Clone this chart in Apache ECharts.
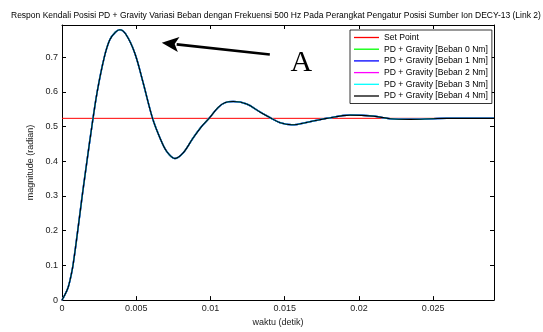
<!DOCTYPE html>
<html>
<head>
<meta charset="utf-8">
<script src="https://cdn.jsdelivr.net/npm/echarts@6/dist/echarts.min.js"></script>
<style>
  html, body { margin: 0; padding: 0; background: #fff; }
  #chart { width: 543px; height: 332px; }
</style>
</head>
<body>
<div id="chart"></div>
<script>
// Time axis (s) and position response (rad) of the PD + Gravity controller
const waktu = [0, 0.0002, 0.0004, 0.00055, 0.00074, 0.00106, 0.00136, 0.00168, 0.00201, 0.00237,
  0.00285, 0.00322, 0.0036, 0.00389, 0.0043, 0.0049, 0.00546, 0.0061, 0.0066, 0.00704,
  0.0076, 0.00816, 0.00883, 0.0094, 0.00991, 0.01052, 0.011, 0.01153, 0.01244, 0.01333,
  0.0140, 0.0147, 0.01547, 0.0167, 0.01783, 0.0194, 0.02097, 0.0221, 0.02345, 0.025,
  0.02592, 0.0291];
// Response is the same for every load (0..4 Nm): the curves lie on top of each other
const respon = [0, 0.016, 0.035, 0.059, 0.10, 0.20, 0.30, 0.40, 0.50, 0.60,
  0.70, 0.75, 0.772, 0.779, 0.766, 0.712, 0.627, 0.5236, 0.467, 0.429,
  0.408, 0.424, 0.467, 0.50, 0.5236, 0.555, 0.569, 0.572, 0.565, 0.542,
  0.526, 0.511, 0.505, 0.514, 0.5236, 0.533, 0.530, 0.5226, 0.5207, 0.5226,
  0.5236, 0.5236];
const setPoint = 0.5236;
const xMax = 0.0291;
const yMax = 0.7925;

const namaBeban = ['PD + Gravity [Beban 0 Nm]', 'PD + Gravity [Beban 1 Nm]',
  'PD + Gravity [Beban 2 Nm]', 'PD + Gravity [Beban 3 Nm]', 'PD + Gravity [Beban 4 Nm]'];
const warnaBeban = ['#00ff00', '#0000ff', '#ff00ff', '#00ffff', '#000000'];
const lebarBeban = [1.5, 1.5, 1.5, 1.5, 1.1];

const FONT = 'Liberation Sans, Arial, sans-serif';
const kurva = waktu.map((t, i) => [t, respon[i]]);

const chart = echarts.init(document.getElementById('chart'), null, { renderer: 'canvas' });

const baseAxis = {
  type: 'value',
  axisLine: { show: true, onZero: false, lineStyle: { color: '#000', width: 1 } },
  axisTick: { show: true, inside: true, length: 4, lineStyle: { color: '#000' } },
  splitLine: { show: false },
  axisLabel: { color: '#222', fontSize: 9, fontFamily: FONT, showMaxLabel: false }
};

const series = [{
  name: 'Set Point', type: 'line', symbol: 'none', silent: true,
  data: [[0, setPoint], [xMax, setPoint]],
  lineStyle: { color: '#ff0000', width: 1 }, itemStyle: { color: '#ff0000' }
}];
namaBeban.forEach((nm, i) => {
  series.push({
    name: nm, type: 'line', symbol: 'none', smooth: 0.35, silent: true,
    data: kurva,
    lineStyle: { color: warnaBeban[i], width: lebarBeban[i] },
    itemStyle: { color: warnaBeban[i] }
  });
});

chart.setOption({
  animation: false,
  backgroundColor: '#fff',
  title: {
    text: 'Respon Kendali Posisi PD + Gravity Variasi Beban dengan Frekuensi 500 Hz Pada Perangkat Pengatur Posisi Sumber Ion DECY-13 (Link 2)',
    left: 6, top: 6,
    textStyle: { fontSize: 8.5, fontWeight: 'normal', color: '#000', fontFamily: FONT }
  },
  grid: { left: 62, right: 49, top: 25, bottom: 27, containLabel: false },
  legend: {
    orient: 'vertical', left: 350, top: 30,
    padding: [2, 4, 2, 4], itemGap: 0.7, itemWidth: 25, itemHeight: 1.3,
    icon: 'rect',
    backgroundColor: '#fff', borderColor: '#000', borderWidth: 0.8, borderRadius: 0,
    textStyle: { fontSize: 8.6, lineHeight: 11, color: '#000', fontFamily: FONT },
    data: ['Set Point'].concat(namaBeban)
  },
  xAxis: [
    Object.assign({}, baseAxis, {
      min: 0, max: xMax, interval: 0.005, position: 'bottom',
      name: 'waktu (detik)', nameLocation: 'middle', nameGap: 17,
      nameTextStyle: { fontSize: 9, color: '#222', fontFamily: FONT },
      axisLabel: Object.assign({}, baseAxis.axisLabel, { margin: 4 })
    }),
    Object.assign({}, baseAxis, {
      min: 0, max: xMax, interval: 0.005, position: 'top',
      axisLabel: { show: false }
    })
  ],
  yAxis: [
    Object.assign({}, baseAxis, {
      min: 0, max: yMax, interval: 0.1, position: 'left',
      name: 'magnitude (radian)', nameLocation: 'middle', nameGap: 24, nameRotate: 90,
      nameTextStyle: { fontSize: 9, color: '#222', fontFamily: FONT },
      axisLabel: Object.assign({}, baseAxis.axisLabel, { margin: 4 })
    }),
    Object.assign({}, baseAxis, {
      min: 0, max: yMax, interval: 0.1, position: 'right',
      axisLabel: { show: false }
    })
  ],
  series: series
});

// Annotation "A": arrow pointing at the first overshoot, anchored in data coordinates
const ekor = chart.convertToPixel({ xAxisIndex: 0, yAxisIndex: 0 }, [0.0140, 0.7076]);
const ujung = chart.convertToPixel({ xAxisIndex: 0, yAxisIndex: 0 }, [0.00672, 0.7416]);
const posA = chart.convertToPixel({ xAxisIndex: 0, yAxisIndex: 0 }, [0.01613, 0.682]);
const dx = ujung[0] - ekor[0], dy = ujung[1] - ekor[1];
const len = Math.sqrt(dx * dx + dy * dy);
const ux = dx / len, uy = dy / len;
const px = -uy, py = ux;
const panjangKepala = 17, lebarKepala = 7.5;
const dasar = [ujung[0] - ux * panjangKepala, ujung[1] - uy * panjangKepala];

chart.setOption({
  graphic: [
    {
      type: 'line', silent: true,
      shape: { x1: ekor[0], y1: ekor[1], x2: dasar[0] + ux * 2, y2: dasar[1] + uy * 2 },
      style: { stroke: '#000', lineWidth: 2.7 }
    },
    {
      type: 'polygon', silent: true,
      shape: { points: [
        [ujung[0], ujung[1]],
        [dasar[0] + px * lebarKepala, dasar[1] + py * lebarKepala],
        [dasar[0] + ux * 4, dasar[1] + uy * 4],
        [dasar[0] - px * lebarKepala, dasar[1] - py * lebarKepala]
      ] },
      style: { fill: '#000' }
    },
    {
      type: 'text', silent: true,
      x: posA[0], y: posA[1],
      style: { text: 'A', fontSize: 30, fontFamily: 'Liberation Serif, Times New Roman, serif',
        fill: '#000', align: 'center', verticalAlign: 'middle' }
    }
  ]
});
</script>
</body>
</html>
